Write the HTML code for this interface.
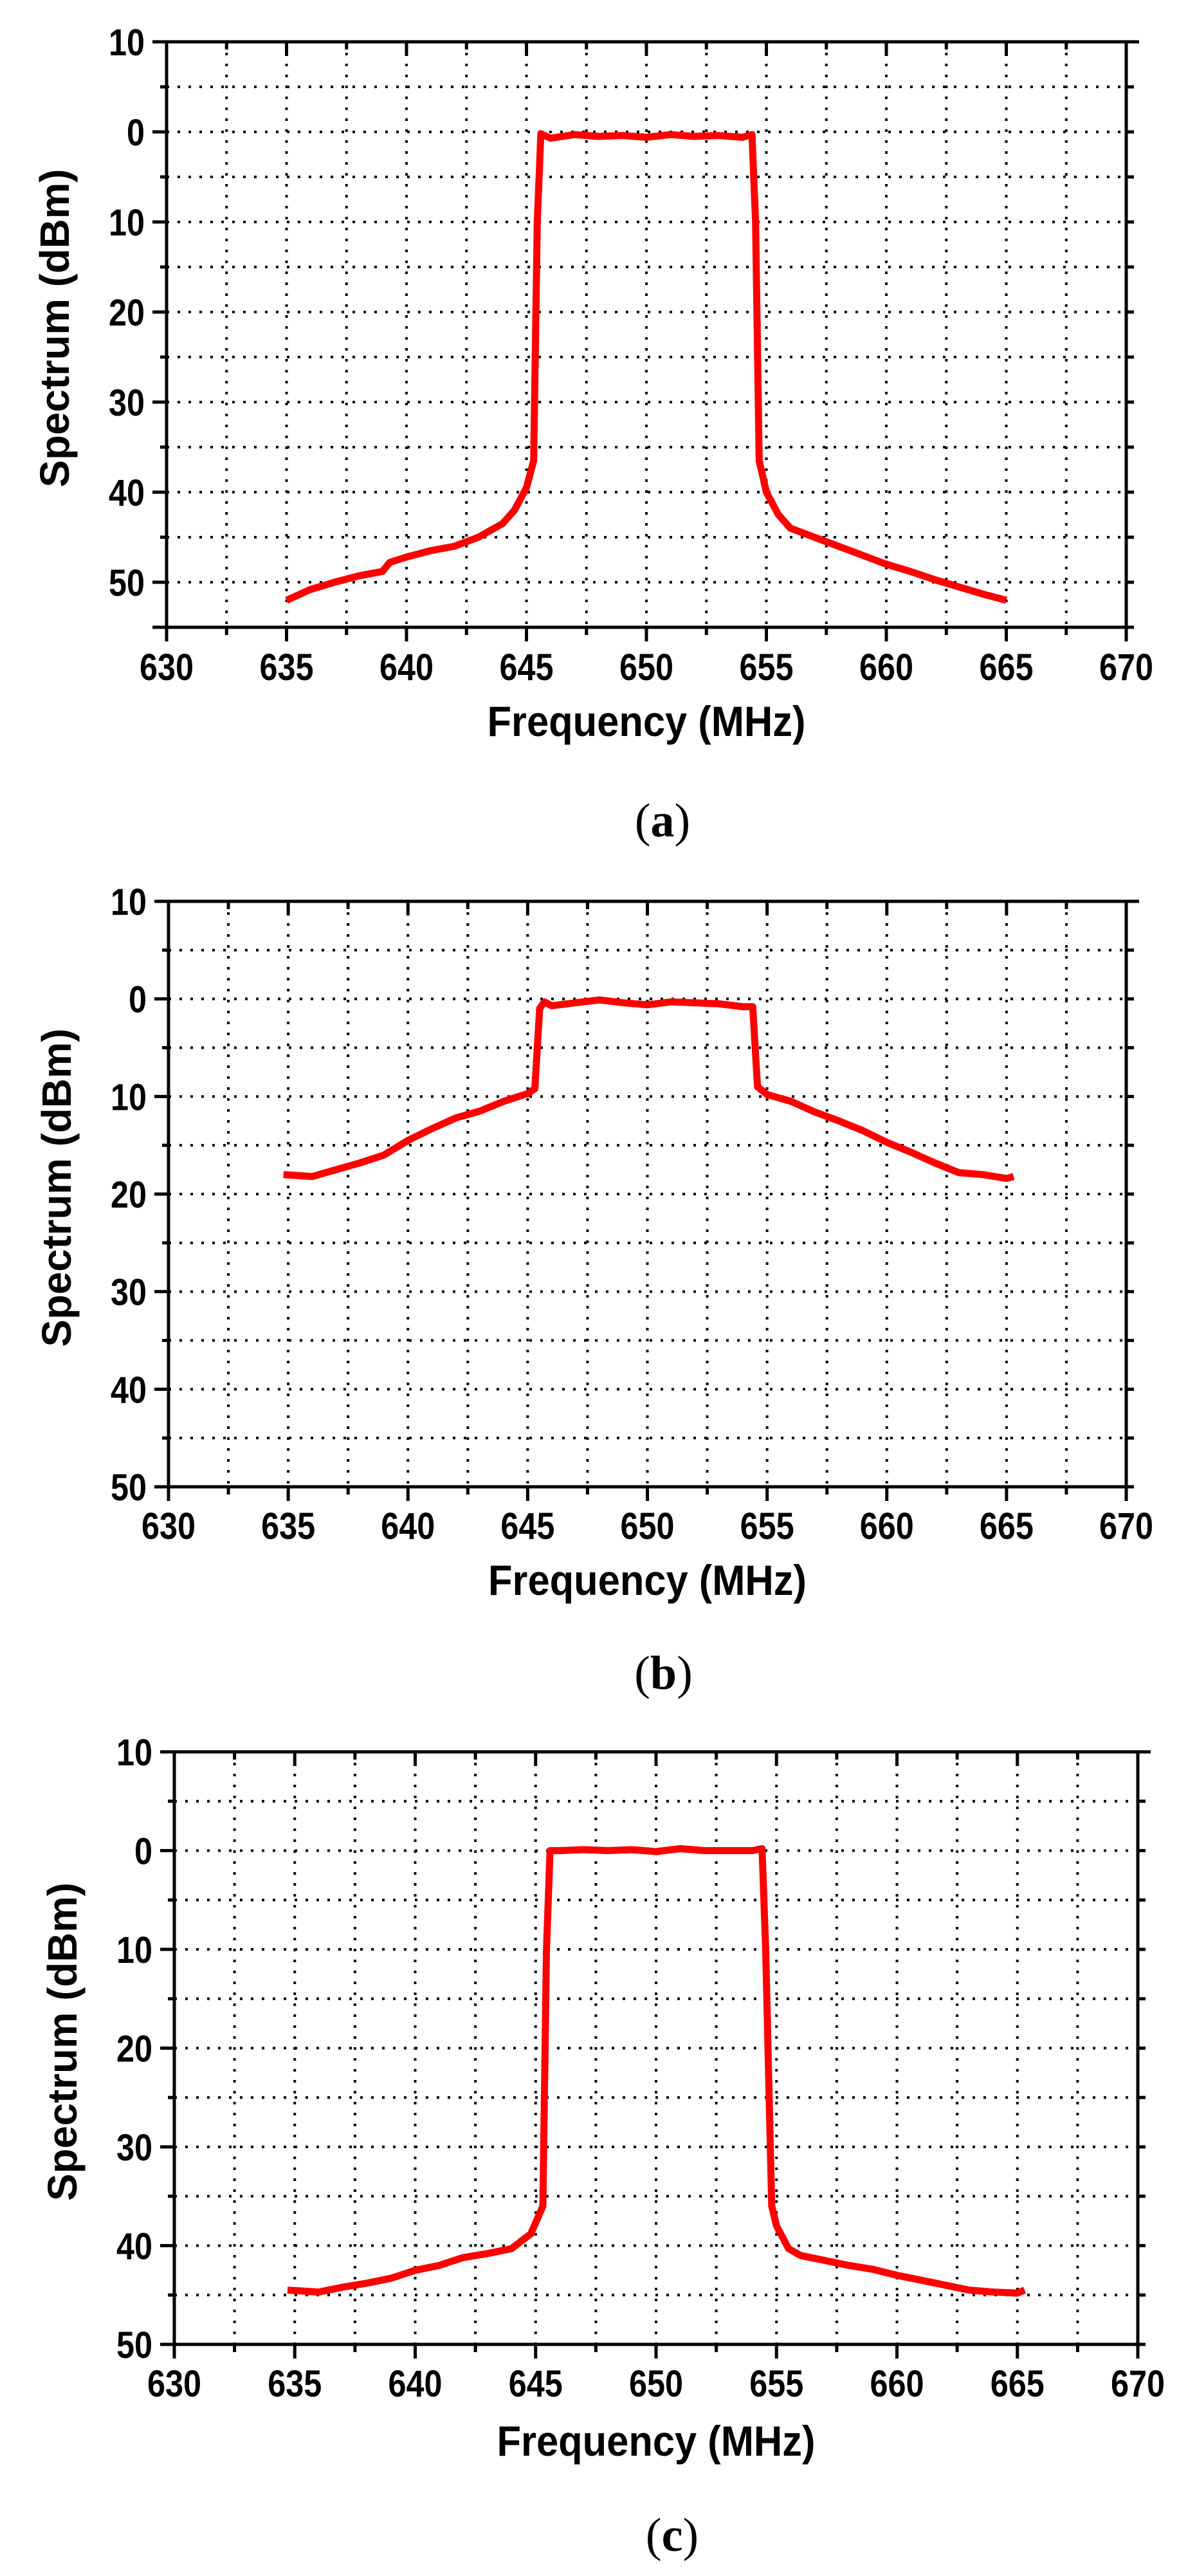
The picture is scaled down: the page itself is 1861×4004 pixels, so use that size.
<!DOCTYPE html>
<html><head><meta charset="utf-8">
<style>
html,body{margin:0;padding:0;background:#fff;}
svg{display:block;}
text{font-family:"Liberation Sans",Arial,sans-serif;font-weight:bold;fill:#000;}
.cap{font-family:"Liberation Serif",serif;font-weight:normal;}
</style></head>
<body>
<svg id="fig" width="1861" height="4004" viewBox="0 0 1861 4004" xmlns="http://www.w3.org/2000/svg"></svg>
<script>
// Shared axes data
const xTicks = [630,635,640,645,650,655,660,665,670];
const yTicksA = [10,0,-10,-20,-30,-40,-50];
const yTicksB = [10,0,-10,-20,-30,-40,-50];
// Chart (a) series
const freqA = [635,636,637,638,639,639.3,640,641,642,643,644,644.5,645,645.3,645.45,645.6,646,647,648,649,650,651,652,653,654,654.4,654.55,654.7,655,655.5,656,657,658,659,660,661,662,663,664,665];
const specA = [-52,-50.8,-50,-49.3,-48.8,-47.8,-47.2,-46.5,-46,-45,-43.5,-42,-39.5,-36.5,-10,-0.2,-0.7,-0.3,-0.5,-0.4,-0.6,-0.3,-0.5,-0.4,-0.6,-0.3,-10,-36.5,-40,-42.5,-44,-45,-46,-47,-48,-48.8,-49.7,-50.5,-51.3,-52];
// Chart (b) series
const freqB = [634.8,636,637,638,639,640,641,642,643,644,645,645.3,645.5,645.7,646,647,648,649,650,651,652,653,654,654.4,654.6,655,656,657,658,659,660,661,662,663,664,665,665.3];
const specB = [-18,-18.2,-17.5,-16.8,-16,-14.5,-13.3,-12.2,-11.5,-10.5,-9.7,-9.2,-1,-0.3,-0.7,-0.4,-0.1,-0.4,-0.6,-0.3,-0.4,-0.5,-0.8,-0.8,-9,-9.8,-10.5,-11.6,-12.5,-13.5,-14.7,-15.7,-16.8,-17.8,-18,-18.4,-18.2];
// Chart (c) series
const freqC = [634.7,636,637,638,639,640,641,642,643,644,644.8,645.3,645.45,645.6,646,647,648,649,650,651,652,653,654,654.4,654.55,654.8,655,655.5,656,657,658,659,660,661,662,663,664,665,665.3];
const specC = [-44.5,-44.7,-44.2,-43.8,-43.3,-42.5,-42,-41.2,-40.8,-40.3,-38.8,-36,-10,0,0,0.1,0,0.1,-0.1,0.2,0,0,0,0.2,-10,-36,-38,-40.3,-41,-41.5,-42,-42.4,-43,-43.5,-44,-44.5,-44.7,-44.8,-44.5];

const NS='http://www.w3.org/2000/svg';
const svg=document.getElementById('fig');
function mk(tag,attrs,parent){const e=document.createElementNS(NS,tag);for(const k in attrs)e.setAttribute(k,attrs[k]);(parent||svg).appendChild(e);return e;}

function chart(id,L,R,T,B,ymax,ymin,yTicks,fx,sy,tickLabY,titleY,capY,capTxt){
  const g=mk('g',{});
  
  
  const X=v=>L+(v-630)/40*(R-L);
  const Y=v=>T+(ymax-v)/(ymax-ymin)*(B-T);
  for(let v=632.5;v<670;v+=2.5){
    const l=mk('line',{x1:X(v),x2:X(v),y1:T,y2:B,stroke:'#000','stroke-width':4,'stroke-dasharray':'4 13'},g);
    
    
  }
  for(let v=ymax-5;v>ymin;v-=5){
    const l=mk('line',{x1:L,x2:R,y1:Y(v),y2:Y(v),stroke:'#000','stroke-width':4,'stroke-dasharray':'4 13'},g);
    
    
  }
  mk('line',{x1:L-22,x2:R+20,y1:T,y2:T,stroke:'#000','stroke-width':5},g);
  mk('line',{x1:L-22,x2:R+12,y1:B,y2:B,stroke:'#000','stroke-width':5},g);
  mk('line',{x1:L,x2:L,y1:T,y2:B+22,stroke:'#000','stroke-width':5},g);
  mk('line',{x1:R,x2:R,y1:T,y2:B+22,stroke:'#000','stroke-width':5},g);
  for(let v=630;v<=670;v+=2.5){
    const major=(v%5===0);
    mk('line',{x1:X(v),x2:X(v),y1:B,y2:B+(major?22:12),stroke:'#000','stroke-width':5},g);
    mk('line',{x1:X(v),x2:X(v),y1:T,y2:T+(major?22:12),stroke:'#000','stroke-width':5},g);
  }
  for(let v=ymax;v>=ymin;v-=5){
    const major=(v%10===0);
    mk('line',{x1:L-(major?22:10),x2:L,y1:Y(v),y2:Y(v),stroke:'#000','stroke-width':5},g);
    mk('line',{x1:R,x2:R+12,y1:Y(v),y2:Y(v),stroke:'#000','stroke-width':5},g);
  }
  xTicks.forEach(v=>{
    const t=mk('text',{x:X(v),y:tickLabY+21,'font-size':58,'text-anchor':'middle',textLength:84,lengthAdjust:'spacingAndGlyphs'},g);
    t.textContent=v;
    
    
  });
  yTicks.forEach(v=>{
    const s=String(Math.abs(v));
    const t=mk('text',{x:L-34,y:Y(v)+21,'font-size':58,'text-anchor':'end',textLength:28*s.length,lengthAdjust:'spacingAndGlyphs'},g);
    t.textContent=s;
    
    
  });
  const xt=mk('text',{x:(L+R)/2,y:titleY+24,'font-size':66,'text-anchor':'middle',textLength:495,lengthAdjust:'spacingAndGlyphs'},g);
  xt.textContent='Frequency (MHz)';
  
  
  const yt=mk('text',{x:0,y:0,'font-size':64,'text-anchor':'middle',textLength:495,lengthAdjust:'spacingAndGlyphs',transform:`translate(${L-174+22},${(T+B)/2-10}) rotate(-90)`},g);
  yt.textContent='Spectrum (dBm)';
  
  
  const pts=fx.map((f,i)=>X(f).toFixed(1)+','+Y(sy[i]).toFixed(1)).join(' ');
  const pl=mk('polyline',{points:pts,fill:'none',stroke:'#ff0000','stroke-width':11,'stroke-linejoin':'round','stroke-linecap':'butt'},g);
  
  
  const c=mk('text',{x:(L+R)/2+25,y:capY+24,'font-size':74,'text-anchor':'middle',class:'cap'},g);
  c.innerHTML='(<tspan font-weight="bold">'+capTxt+'</tspan>)';
  
  
}
chart('a',259,1751,65,975,10,-55,yTicksA,freqA,specA,1036,1120,1276,'a');
chart('b',262,1751,1401,2311,10,-50,yTicksB,freqB,specB,2371,2455,2601,'b');
chart('c',271,1769,2723,3644,10,-50,yTicksB,freqC,specC,3704,3793,3941,'c');
</script>
</body></html>
